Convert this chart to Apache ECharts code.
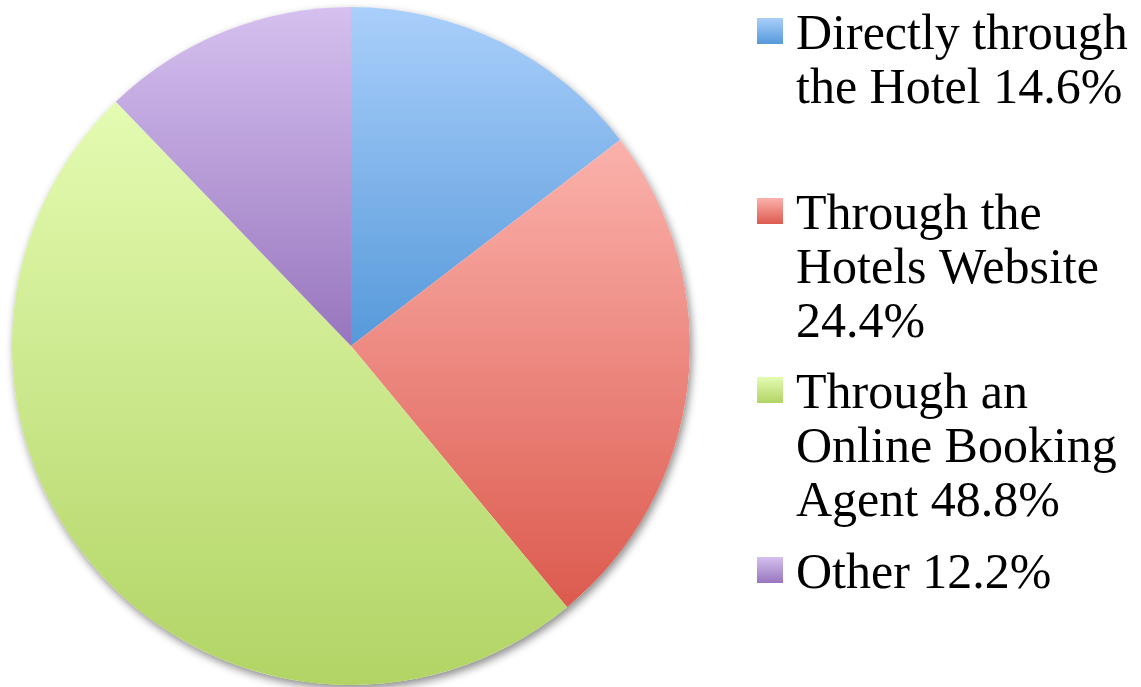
<!DOCTYPE html>
<html>
<head>
<meta charset="utf-8">
<script src="https://cdn.jsdelivr.net/npm/echarts@6/dist/echarts.min.js"></script>
<style>
  html, body { margin: 0; padding: 0; background: #fff; }
  #main { width: 1141px; height: 687px; }
</style>
</head>
<body>
<div id="main"></div>
<script>
(function() {
  const categories = [
    'Directly through\nthe Hotel 14.6%',
    'Through the\nHotels Website\n24.4%',
    'Through an\nOnline Booking\nAgent 48.8%',
    'Other 12.2%'
  ];
  const values = [14.6, 24.4, 48.8, 12.2];
  const topColors = ['#aacffb', '#fbb2ac', '#e4fbb2', '#d5c0ef'];
  const bottomColors = ['#5699da', '#dc5a4e', '#b2d465', '#9875be'];

  const myChart = echarts.init(document.getElementById('main'));

  function gradient(i) {
    return new echarts.graphic.LinearGradient(0, 0, 0, 1, [
      { offset: 0, color: topColors[i] },
      { offset: 1, color: bottomColors[i] }
    ]);
  }

  const pieData = categories.map(function (name, i) {
    return { name: name, value: values[i], itemStyle: { color: gradient(i) } };
  });

  // one legend per item so the icon can sit beside the first line
  const iconTops = [18, 198, 377, 557];
  const lineH = 54;
  const legends = categories.map(function (name, i) {
    const n = name.split('\n').length;
    // a spacer line above pushes the first line onto the icon
    const spacer = (n - 1) * lineH + 10;
    const blockTop = 13 - (spacer + n * lineH) / 2;
    return {
      data: [name],
      orient: 'vertical',
      left: 757,
      top: iconTops[i] + blockTop,
      padding: 0,
      itemWidth: 26,
      itemHeight: 26,
      itemGap: 0,
      icon: 'rect',
      selectedMode: false,
      formatter: function (nm) {
        return '{s| }\n' + nm;
      },
      textStyle: {
        fontFamily: 'Liberation Serif',
        fontSize: 50,
        lineHeight: lineH,
        color: '#000',
        padding: [0, 0, 0, 8],
        rich: {
          s: { fontSize: 2, lineHeight: spacer, height: spacer }
        }
      }
    };
  });

  const option = {
    backgroundColor: '#fff',
    animation: false,
    legend: legends,
    series: [{
      type: 'pie',
      silent: true,
      center: [351, 346],
      radius: 339,
      label: { show: false },
      labelLine: { show: false },
      itemStyle: {
        color: '#ffffff',
        shadowBlur: 8,
        shadowOffsetX: 2,
        shadowOffsetY: 4,
        shadowColor: 'rgba(0,0,0,0.45)'
      },
      tooltip: { show: false },
      data: [{ name: '', value: 1 }]
    }, {
      name: 'Booking',
      type: 'pie',
      center: [351, 346],
      radius: 339,
      startAngle: 90,
      clockwise: true,
      label: { show: false },
      labelLine: { show: false },
      itemStyle: { borderWidth: 0 },
      emphasis: { disabled: true },
      data: pieData
    }]
  };

  myChart.setOption(option);
})();
</script>
</body>
</html>
